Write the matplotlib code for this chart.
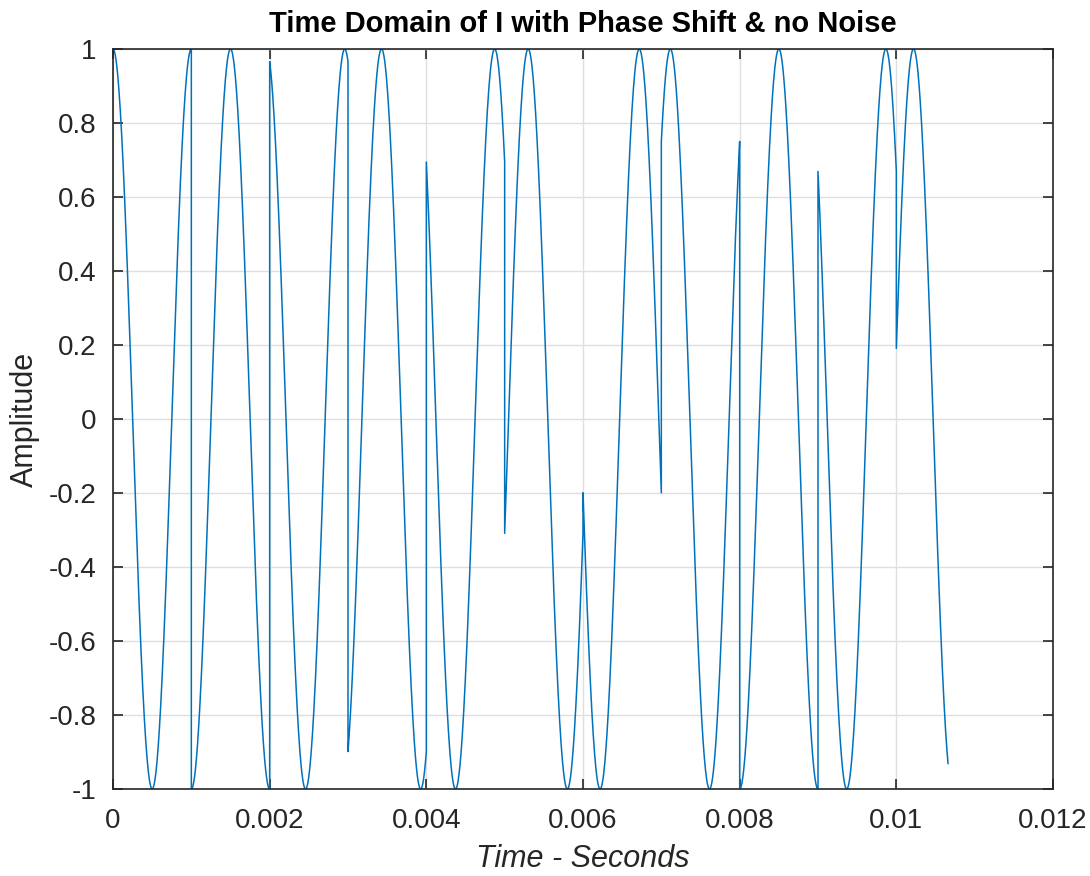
import numpy as np
import matplotlib
matplotlib.use('Agg')
from matplotlib import pyplot as plt

# carrier and symbol timing
carrier_hz = 1000.0
symbol_len = 0.001
signal_end = 0.01066

# phase of each 1 ms symbol in degrees (estimated from peak positions)
symbol_phase_deg = [0, 180, 15, -154, 46, -108, 101.5, -41.4, 180, 48, -79]

x_ticks = [0, 0.002, 0.004, 0.006, 0.008, 0.01, 0.012]
x_tick_labels = ['0', '0.002', '0.004', '0.006', '0.008', '0.01', '0.012']
y_ticks = [-1, -0.8, -0.6, -0.4, -0.2, 0, 0.2, 0.4, 0.6, 0.8, 1]
y_tick_labels = ['-1', '-0.8', '-0.6', '-0.4', '-0.2', '0', '0.2', '0.4', '0.6', '0.8', '1']

# build the waveform symbol by symbol
t_parts, y_parts = [], []
for k, ph in enumerate(symbol_phase_deg):
    t0 = k * symbol_len
    t1 = min((k + 1) * symbol_len, signal_end)
    t = np.linspace(t0, t1, 400)
    t_parts.append(t)
    y_parts.append(np.cos(2 * np.pi * carrier_hz * t + np.deg2rad(ph)))
t_all = np.concatenate(t_parts)
y_all = np.concatenate(y_parts)

plt.rcParams['font.family'] = ['Liberation Sans', 'DejaVu Sans']
dark = '#262626'

fig = plt.figure(figsize=(10.9, 8.76), dpi=100)
ax = fig.add_axes([113 / 1090, 1 - 789 / 876, (1053 - 113) / 1090, (789 - 49) / 876])

ax.plot(t_all, y_all, color='#0072BD', linewidth=1.1)

ax.set_xlim(0, 0.012)
ax.set_ylim(-1, 1)
ax.set_xticks(x_ticks)
ax.set_xticklabels(x_tick_labels)
ax.set_yticks(y_ticks)
ax.set_yticklabels(y_tick_labels)

ax.grid(True, color='#dfdfdf', linewidth=1.0)
ax.set_axisbelow(True)
ax.tick_params(direction='in', length=7, width=1.2, top=True, right=True,
               labelsize=20, colors=dark)
ax.tick_params(axis='x', pad=14)
ax.tick_params(axis='y', pad=12)
for s in ax.spines.values():
    s.set_color(dark)
    s.set_linewidth(1.2)

ax.set_title('Time Domain of I with Phase Shift & no Noise', fontsize=21,
             fontweight='bold', color='black', pad=12)
ax.set_xlabel('Time - Seconds', fontsize=22, style='italic', color=dark, labelpad=7)
ax.set_ylabel('Amplitude', fontsize=22, color=dark, labelpad=6)

fig.savefig('out.png', dpi=100)
